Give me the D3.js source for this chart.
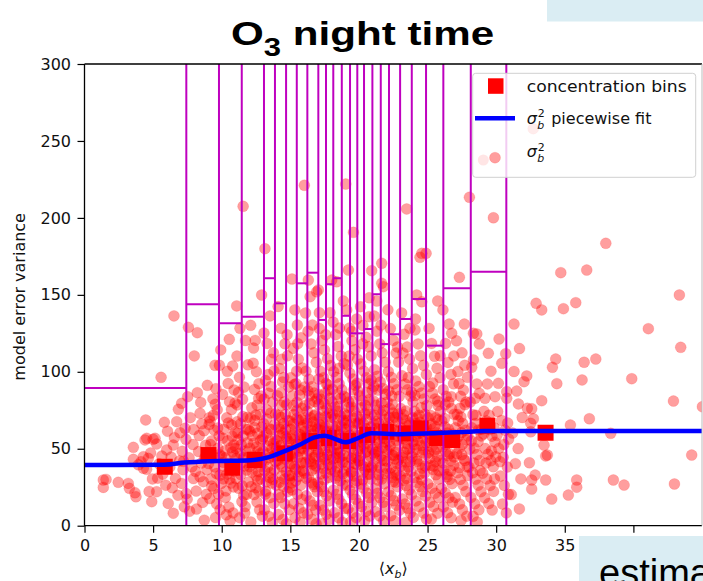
<!DOCTYPE html>
<html>
<head>
<meta charset="utf-8">
<script src="https://cdn.jsdelivr.net/npm/d3@7"></script>
<style>
  body { margin: 0; background: #fff; }
  svg { display: block; }
</style>
</head>
<body>
<svg id="chart" width="703" height="581"></svg>
<script>
// ---- data ----
const xTicks = [0, 5, 10, 15, 20, 25, 30, 35, 40];
const xTickLabels = ["0", "5", "10", "15", "20", "25", "30", "35", ""];
const yTicks = [0, 50, 100, 150, 200, 250, 300];

// bin edges of the concentration classes and the step level drawn for each class
const binEdges = [0, 7.42, 9.80, 11.46, 13.08, 13.88, 14.69, 15.47, 16.24, 17.04, 17.60, 18.13,
  18.75, 19.35, 19.88, 20.37, 20.98, 21.59, 22.19, 23.00, 23.85, 24.89, 26.15, 28.15, 30.74];
const binTops = [89.5, 143.9, 131.5, 135.8, 160.8, 144.5, 320, 157.5, 164.4, 133.7, 156.9, 160.8,
  136.4, 125.0, 125.0, 127.8, 150.4, 118.0, 124.4, 134.3, 147.3, 117.0, 154.3, 165.0];

// concentration bins (mean concentration, error variance)
const concX = [5.85, 9.03, 10.77, 12.4, 14.6, 16.4, 17.8, 19.2, 20.6, 22.0, 23.4, 24.5, 25.7, 26.8, 29.36, 33.6];
const concY = [38.3, 45.9, 37.7, 42.7, 47.0, 55.0, 57.0, 55.0, 59.0, 61.0, 60.0, 63.3, 57.0, 55.7, 65.0, 60.4];

// piecewise fit of sigma_b^2
const fitX = [0, 5.8, 7.3, 9.6, 12.1, 13.3, 14.5, 15.8, 16.7, 17.5, 18.2, 19.0, 19.9, 20.9, 23.0, 25.5, 27.9, 29.1, 45];
const fitY = [39.4, 39.6, 41.0, 42.0, 42.6, 44.2, 48.1, 53.1, 57.2, 58.5, 56.6, 54.2, 56.8, 60.0, 59.5, 60.0, 61.0, 61.5, 61.5];

// individual sigma_b^2 estimates: [mean concentration, error variance]
const sigmaPts = [
  [1.37,29.7],[1.57,30.1],[1.37,24.9],[2.46,28.2],[3.19,27.5],[3.27,24.3],[3.68,21.4],[3.75,18.8],[3.56,50.9],[3.56,43.1],[4.29,44.8],[4.65,43.8],[4.29,37.3],[4.53,36.6],[4.41,55.7],[4.46,68.7],[4.53,56.8],[4.9,15.6],[4.12,41.5],[4.82,47.2],[3.93,39.6],[4.95,30.4],[4.71,22.3],
  [5.0,56.1],[5.26,53.1],[6.47,52.4],[5.99,49.2],[5.26,22.1],[6.1,14.5],[6.47,8.1],[5.58,96.4],[5.82,67.2],[6.72,67.6],[6.84,75.6],[6.52,136.3],[6.96,60.4],[5.14,56.8],[5.43,40.2],[5.71,33.5],[6.22,38.1],[6.63,30.7],[6.31,44.6],[5.92,26.3],[6.81,19.8],[6.55,57.2],[5.64,45.3],[6.93,42.1],[5.33,30.9],[6.05,61.4],[6.4,24.6],
  [7.08,79.5],[7.52,83.8],[7.33,63.3],[7.57,128.9],[7.08,27.5],[7.48,17.2],[7.41,20.9],[7.27,12.3],[7.18,36.4],[7.62,44.1],[7.83,38.2],[7.91,52.7],[7.12,48.3],[7.71,70.2],[7.94,30.6],[8.0,110.3],[7.39,56.1],[7.96,62.5],[7.66,9.4],[7.22,41.8],
  [8.22,125.4],[8.22,86.4],[8.42,73.0],[8.71,61.7],[8.42,31.8],[8.66,28.6],[8.95,91.2],[8.31,48.2],[8.52,40.7],[8.83,52.3],[8.14,22.5],[8.61,15.1],[8.92,36.4],[8.36,58.6],[8.77,44.3],[8.55,66.2],[8.16,10.8],[8.88,20.4],[8.47,80.1],[8.73,3.6],[8.09,35.3],
  [9.1,70.2],[9.15,68.0],[9.08,65.7],[9.51,104.2],[9.83,104.2],[9.58,89.0],[9.93,114.2],[9.21,30.3],[9.42,24.1],[9.63,14.2],[9.88,10.4],[9.31,45.6],[9.72,50.3],[9.49,38.2],[9.81,58.4],[9.26,55.1],[9.67,75.3],[9.04,40.4],[9.86,32.7],[9.45,62.1],[9.76,20.5],[9.36,82.4],[9.97,45.2],[9.55,5.3],[9.13,17.6],
  [10.55,121.1],[10.8,103.8],[10.97,79.7],[10.73,65.4],[10.12,30.4],[10.31,22.6],[10.52,12.1],[10.83,8.3],[10.21,48.5],[10.44,55.2],[10.63,40.3],[10.91,35.4],[10.16,62.7],[10.37,70.1],[10.66,50.6],[10.86,25.2],[10.06,85.3],[10.47,92.4],[10.77,58.1],[10.26,18.4],[10.94,45.6],[10.61,3.2],[10.41,100.3],[10.9,88.2],[10.19,38.7],[10.71,75.5],[10.34,7.1],[10.58,30.2],
  [11.09,142.8],[11.33,128.3],[11.56,207.5],[11.11,110.2],[11.29,96.4],[11.52,82.1],[11.73,120.3],[11.91,104.5],[11.18,60.2],[11.42,52.6],[11.61,44.3],[11.83,36.1],[11.04,30.6],[11.24,24.3],[11.47,15.7],[11.68,8.2],[11.86,70.4],[11.14,78.5],[11.37,66.2],[11.57,58.3],[11.77,48.6],[11.96,28.4],[11.63,90.1],[11.01,50.2],[11.41,40.5],[11.81,20.3],[11.31,5.2],[11.93,62.6],[11.22,86.7],[11.71,12.4],
  [12.91,149.9],[12.11,130.2],[12.32,115.4],[12.53,100.1],[12.71,92.3],[12.88,84.2],[12.19,76.6],[12.42,68.4],[12.61,60.1],[12.83,55.3],[12.04,50.4],[12.27,45.2],[12.46,40.6],[12.67,35.1],[12.86,30.3],[12.14,25.5],[12.36,20.2],[12.57,15.4],[12.76,10.3],[12.96,6.2],[12.23,58.4],[12.63,48.3],[12.92,64.1],[12.39,88.5],[12.81,72.2],[12.02,38.3],[12.72,22.4],[12.29,105.6],[12.51,32.2],[12.94,42.1],[12.12,2.4],[12.58,78.3],[12.44,120.4],
  [13.15,180.0],[13.52,136.3],[13.08,125.2],[13.31,118.4],[13.62,108.1],[13.81,100.5],[13.19,94.3],[13.42,86.1],[13.71,80.4],[13.92,72.6],[13.06,66.3],[13.26,60.2],[13.47,55.4],[13.66,50.1],[13.87,46.3],[13.16,42.5],[13.36,38.2],[13.56,34.4],[13.74,30.1],[13.96,26.3],[13.21,22.4],[13.51,18.2],[13.79,14.5],[13.11,10.3],[13.41,6.2],[13.69,2.1],[13.29,75.3],[13.61,62.4],[13.89,56.2],[13.01,48.3],[13.46,44.1],[13.84,36.3],[13.59,90.5],[13.24,28.4],[13.77,112.3],[13.38,98.2],
  [14.11,142.4],[14.32,128.3],[14.61,118.2],[14.79,110.4],[14.22,102.1],[14.52,96.3],[14.89,90.2],[14.06,84.5],[14.36,78.2],[14.64,72.4],[14.94,68.1],[14.16,64.2],[14.44,60.3],[14.74,56.5],[14.26,52.1],[14.56,48.3],[14.86,45.2],[14.09,42.4],[14.41,38.2],[14.69,35.1],[14.91,32.4],[14.21,28.2],[14.49,25.4],[14.81,22.1],[14.29,18.3],[14.59,14.2],[14.92,10.4],[14.13,7.2],[14.46,4.1],[14.71,1.3],[14.34,70.4],[14.66,62.3],[14.02,55.2],[14.54,80.3],[14.84,50.4],[14.24,40.1],[14.96,30.2],[14.17,20.3],[14.76,124.1],[14.38,108.2],
  [15.12,160.3],[15.33,140.2],[15.51,130.4],[15.78,122.1],[15.21,115.3],[15.58,108.2],[15.88,102.4],[15.04,96.1],[15.41,92.3],[15.74,88.2],[15.16,84.4],[15.49,80.1],[15.84,76.3],[15.26,72.2],[15.61,68.4],[15.94,65.1],[15.36,62.3],[15.69,59.2],[15.09,56.4],[15.44,53.1],[15.81,50.3],[15.19,47.2],[15.56,44.4],[15.91,41.1],[15.29,38.3],[15.66,35.2],[15.01,32.4],[15.39,29.1],[15.76,26.3],[15.14,23.2],[15.52,20.4],[15.86,17.1],[15.24,14.3],[15.63,11.2],[15.96,8.4],[15.34,5.1],[15.71,2.3],[15.46,100.4],[15.89,58.2],[15.23,66.1],[15.64,48.3],[15.06,40.2],[15.54,118.3],
  [16.02,221.2],[16.31,159.6],[16.44,148.8],[16.92,152.0],[16.11,138.2],[16.29,126.4],[16.52,118.1],[16.71,112.3],[16.89,106.2],[16.14,100.4],[16.36,95.1],[16.56,90.3],[16.74,86.2],[16.94,82.4],[16.06,78.1],[16.24,74.3],[16.46,70.2],[16.66,67.4],[16.84,64.1],[16.09,61.3],[16.32,58.2],[16.51,55.4],[16.69,52.1],[16.91,49.3],[16.19,46.2],[16.41,43.4],[16.62,40.1],[16.79,37.3],[16.01,34.2],[16.34,31.4],[16.54,28.1],[16.76,25.3],[16.96,22.2],[16.16,19.4],[16.43,16.1],[16.64,13.3],[16.86,10.2],[16.26,7.4],[16.58,4.1],[16.88,1.2],[16.39,84.3],[16.81,72.1],[16.21,54.2],[16.72,44.3],[16.49,62.1],[16.04,90.2],[16.61,130.4],
  [17.04,153.2],[17.11,138.4],[17.89,138.4],[18.02,159.6],[18.38,158.5],[17.12,128.1],[17.31,120.3],[17.49,114.2],[17.71,108.4],[17.92,104.1],[17.19,100.3],[17.42,96.2],[17.61,92.4],[17.79,88.1],[17.06,85.3],[17.27,82.2],[17.46,79.4],[17.66,76.1],[17.86,73.3],[17.14,70.2],[17.36,67.4],[17.56,64.1],[17.74,61.3],[17.94,58.2],[17.09,55.4],[17.32,52.1],[17.51,49.3],[17.69,46.2],[17.91,43.4],[17.21,40.1],[17.39,37.3],[17.59,34.2],[17.81,31.4],[17.02,28.1],[17.24,25.3],[17.44,22.2],[17.64,19.4],[17.84,16.1],[17.16,13.3],[17.41,10.2],[17.62,7.4],[17.82,4.1],[17.29,1.3],[17.54,86.2],[17.96,70.4],[17.22,62.1],[17.76,54.3],[17.38,44.2],[17.58,124.1],[17.08,95.3],
  [18.86,146.0],[18.12,132.3],[18.31,124.1],[18.49,116.4],[18.71,110.2],[18.91,105.3],[18.16,100.1],[18.34,96.4],[18.56,92.2],[18.76,88.3],[18.94,84.1],[18.04,80.4],[18.24,77.2],[18.46,74.3],[18.66,71.1],[18.84,68.4],[18.09,65.2],[18.29,62.3],[18.51,59.1],[18.69,56.4],[18.89,53.2],[18.19,50.3],[18.41,47.1],[18.61,44.4],[18.81,41.2],[18.01,38.3],[18.26,35.1],[18.44,32.4],[18.64,29.2],[18.83,26.3],[18.14,23.1],[18.36,20.4],[18.54,17.2],[18.74,14.3],[18.96,11.1],[18.21,8.4],[18.52,5.2],[18.79,2.3],[18.39,85.2],[18.59,128.4],[18.72,64.3],[18.32,44.1],[18.92,35.4],[18.11,72.2],[18.56,102.3],
  [19.04,222.0],[19.6,190.6],[19.23,166.1],[19.84,134.3],[19.11,140.2],[19.31,128.4],[19.49,120.1],[19.71,114.3],[19.89,108.2],[19.16,104.4],[19.34,99.1],[19.56,95.3],[19.74,91.2],[19.94,87.4],[19.06,83.1],[19.26,80.3],[19.44,77.2],[19.66,74.4],[19.86,71.1],[19.09,68.3],[19.29,65.2],[19.51,62.4],[19.69,59.1],[19.91,56.3],[19.19,53.2],[19.41,50.4],[19.61,47.1],[19.79,44.3],[19.02,41.2],[19.24,38.4],[19.46,35.1],[19.64,32.3],[19.84,29.2],[19.14,26.4],[19.36,23.1],[19.54,20.3],[19.76,17.2],[19.96,14.4],[19.21,11.1],[19.52,8.3],[19.81,5.2],[19.39,2.4],[19.62,88.3],[19.28,110.2],[19.92,66.4],[19.07,58.1],[19.72,40.3],[19.47,126.2],
  [20.93,165.7],[20.74,148.1],[20.74,135.8],[20.11,142.3],[20.29,130.1],[20.52,122.4],[20.71,116.2],[20.89,110.3],[20.14,105.1],[20.36,100.4],[20.54,96.2],[20.76,92.3],[20.96,88.1],[20.04,84.4],[20.26,81.2],[20.46,78.3],[20.64,75.1],[20.86,72.4],[20.12,69.2],[20.31,66.3],[20.49,63.1],[20.72,60.4],[20.91,57.2],[20.21,54.3],[20.39,51.1],[20.61,48.4],[20.81,45.2],[20.02,42.3],[20.24,39.1],[20.44,36.4],[20.66,33.2],[20.84,30.3],[20.16,27.1],[20.34,24.4],[20.56,21.2],[20.74,18.3],[20.94,15.1],[20.19,12.4],[20.51,9.2],[20.79,6.3],[20.41,3.1],[20.59,86.4],[20.28,118.2],[20.88,64.1],[20.13,50.3],[20.69,38.2],
  [21.66,170.5],[21.66,157.5],[21.3,146.0],[21.78,155.3],[21.12,136.2],[21.31,126.4],[21.51,118.1],[21.69,112.3],[21.92,106.2],[21.14,101.4],[21.34,97.1],[21.56,93.3],[21.74,89.2],[21.94,85.4],[21.06,81.1],[21.24,78.3],[21.46,75.2],[21.64,72.4],[21.86,69.1],[21.09,66.3],[21.32,63.2],[21.49,60.4],[21.71,57.1],[21.89,54.3],[21.19,51.2],[21.41,48.4],[21.59,45.1],[21.81,42.3],[21.02,39.2],[21.26,36.4],[21.44,33.1],[21.66,30.3],[21.84,27.2],[21.16,24.4],[21.36,21.1],[21.54,18.3],[21.76,15.2],[21.96,12.4],[21.21,9.1],[21.52,6.3],[21.79,3.2],[21.39,88.1],[21.61,130.3],[21.91,62.2],[21.11,46.4],
  [22.11,140.3],[22.29,128.1],[22.51,120.4],[22.71,112.2],[22.89,106.3],[22.14,100.1],[22.36,96.4],[22.54,92.2],[22.76,88.3],[22.94,84.1],[22.06,80.4],[22.24,76.2],[22.46,73.3],[22.64,70.1],[22.86,67.4],[22.09,64.2],[22.31,61.3],[22.49,58.1],[22.72,55.4],[22.91,52.2],[22.19,49.3],[22.41,46.1],[22.61,43.4],[22.79,40.2],[22.02,37.3],[22.26,34.1],[22.44,31.4],[22.66,28.2],[22.84,25.3],[22.16,22.1],[22.34,19.4],[22.56,16.2],[22.74,13.3],[22.96,10.1],[22.32,6.4],[22.59,3.2],[22.39,84.3],[22.81,116.1],[22.21,70.4],[22.69,35.2],
  [23.48,205.8],[23.72,128.3],[23.11,138.2],[23.29,124.4],[23.51,116.1],[23.69,108.3],[23.91,102.2],[23.14,97.4],[23.36,92.1],[23.54,88.3],[23.76,84.2],[23.94,80.4],[23.04,76.1],[23.24,72.3],[23.46,68.2],[23.64,65.4],[23.86,62.1],[23.09,59.3],[23.31,56.2],[23.49,53.4],[23.71,50.1],[23.89,47.3],[23.19,44.2],[23.41,41.4],[23.61,38.1],[23.79,35.3],[23.02,32.2],[23.26,29.4],[23.44,26.1],[23.66,23.3],[23.84,20.2],[23.16,17.4],[23.34,14.1],[23.56,11.3],[23.74,8.2],[23.96,5.4],[23.39,2.1],[23.59,96.3],[23.21,112.2],[23.92,70.1],
  [24.45,174.4],[24.89,177.0],[24.58,177.0],[24.21,149.9],[24.58,145.5],[24.09,127.2],[24.12,134.3],[24.31,118.1],[24.49,110.4],[24.71,104.2],[24.91,98.3],[24.14,94.1],[24.36,90.4],[24.56,86.2],[24.74,82.3],[24.94,78.1],[24.04,74.4],[24.26,70.2],[24.44,67.3],[24.66,64.1],[24.84,61.4],[24.11,58.2],[24.29,55.3],[24.51,52.1],[24.69,49.4],[24.89,46.2],[24.19,43.3],[24.41,40.1],[24.61,37.4],[24.79,34.2],[24.02,31.3],[24.24,28.1],[24.46,25.4],[24.64,22.2],[24.86,19.3],[24.16,16.1],[24.39,12.4],[24.71,8.2],[24.92,4.3],[24.53,60.1],[24.81,72.4],
  [25.74,146.0],[25.11,128.2],[25.29,118.4],[25.51,110.1],[25.69,102.3],[25.91,96.2],[25.14,90.4],[25.36,86.1],[25.54,82.3],[25.76,78.2],[25.94,74.4],[25.04,70.1],[25.26,66.3],[25.46,63.2],[25.64,60.4],[25.86,57.1],[25.09,54.3],[25.31,51.2],[25.49,48.4],[25.71,45.1],[25.89,42.3],[25.19,39.2],[25.41,36.4],[25.61,33.1],[25.79,30.3],[25.02,27.2],[25.32,24.4],[25.56,21.1],[25.81,18.3],[25.16,15.2],[25.44,12.4],[25.74,8.1],[25.28,4.3],[25.59,70.2],[25.92,110.4],
  [26.57,131.0],[26.76,125.0],[26.12,140.2],[26.31,118.4],[26.49,106.1],[26.71,98.3],[26.89,92.2],[26.14,88.4],[26.36,84.1],[26.54,80.3],[26.74,76.2],[26.94,72.4],[26.04,68.1],[26.26,64.3],[26.44,60.2],[26.66,57.4],[26.84,54.1],[26.09,51.3],[26.31,48.2],[26.51,45.4],[26.69,42.1],[26.91,39.3],[26.19,36.2],[26.41,33.4],[26.61,30.1],[26.79,27.3],[26.02,24.2],[26.29,21.4],[26.56,18.1],[26.81,15.3],[26.16,12.2],[26.46,8.4],[26.72,5.1],[26.92,110.3],
  [27.32,161.4],[27.68,131.0],[27.21,100.2],[27.29,92.4],[27.41,84.1],[27.36,76.3],[27.24,68.2],[27.46,60.4],[27.11,120.1],[27.51,112.3],[27.71,104.2],[27.91,96.4],[27.61,88.1],[27.81,80.3],[27.16,72.2],[27.56,66.4],[27.76,62.1],[27.94,58.3],[27.06,54.2],[27.31,50.4],[27.49,46.1],[27.72,42.3],[27.89,38.2],[27.19,34.4],[27.39,30.1],[27.59,26.3],[27.79,22.2],[27.02,18.4],[27.33,14.1],[27.54,10.3],[27.86,6.2],[27.44,3.4],
  [28.05,213.4],[28.34,125.0],[28.59,124.6],[28.77,118.1],[28.34,107.7],[28.22,102.9],[28.59,92.1],[28.77,86.0],[28.11,80.3],[28.31,72.1],[28.49,66.4],[28.71,62.2],[28.91,58.3],[28.19,55.1],[28.41,50.4],[28.61,46.2],[28.79,42.3],[28.02,38.1],[28.29,34.4],[28.51,30.2],[28.69,26.3],[28.89,22.1],[28.16,18.4],[28.44,14.2],[28.74,10.3],[28.32,6.1],[28.62,2.4],
  [29.8,200.1],[29.43,112.0],[29.19,82.8],[29.92,83.8],[29.11,74.3],[29.29,68.1],[29.51,62.4],[29.69,58.2],[29.91,54.3],[29.21,50.1],[29.41,46.4],[29.61,42.2],[29.79,38.3],[29.02,34.1],[29.31,30.4],[29.56,26.2],[29.81,22.3],[29.16,18.1],[29.46,14.4],[29.71,10.2],[29.88,30.3],[29.36,92.1],[29.62,100.4],
  [30.21,121.3],[30.7,111.8],[30.41,105.5],[30.16,92.5],[30.77,87.1],[30.77,82.8],[30.11,74.2],[30.39,68.4],[30.64,62.1],[30.91,56.3],[30.19,50.2],[30.51,44.4],[30.81,38.1],[30.31,32.3],[30.59,26.2],[30.89,20.4],[30.46,14.1],[30.74,8.3],
  [31.3,131.0],[31.5,87.5],[31.62,79.1],[31.69,10.9],[32.23,97.3],[32.03,93.6],[32.59,76.0],[33.32,81.2],[32.71,69.5],[35.41,65.4],[36.79,69.5],[38.35,60.0],[32.52,61.0],[32.52,66.5],[32.27,76.3],[33.73,45.9],[33.49,52.3],[33.61,29.7],[32.59,29.7],[32.59,23.8],[32.84,32.9],[32.42,40.9],[33.61,45.3],[34.05,17.3],[35.87,29.7],[35.87,25.0],[35.26,19.9],[38.54,29.7],[39.32,26.4],[42.99,27.1],[44.25,45.9],[34.34,108.3],[34.1,102.9],[34.42,92.3],[36.41,106.2],[37.26,108.3],[36.26,94.7],[39.88,95.5],[42.92,81.0],[45.03,77.3],[41.09,128.0],[43.45,115.9],[43.35,149.9],[37.99,183.5],[34.71,164.4],[36.6,166.1],[32.91,144.5],[33.32,140.2],[34.9,141.0],[35.8,144.9],[31.2,60.2],[31.4,40.3],[31.8,30.4],[31.1,20.2],[31.6,50.1],[31.9,70.3],[31.3,100.2],[31.7,115.1],[32.7,258.0]
];

// additional estimates in the crowded mid-concentration range
const sigmaPtsCore = [
  [9.18,52.7],[9.39,71.8],[9.62,33.9],[9.84,46.3],[9.27,25.8],[9.71,63.5],[9.53,78.9],[9.95,27.4],
  [10.08,56.9],[10.27,44.1],[10.49,66.8],[10.68,27.7],[10.88,52.4],[10.14,41.2],[10.39,33.6],[10.57,80.6],[10.79,47.9],[10.97,60.8],
  [11.07,43.7],[11.21,55.8],[11.39,33.2],[11.54,70.9],[11.66,38.8],[11.88,53.9],[11.12,67.5],[11.35,47.1],[11.49,25.9],[11.79,62.7],[11.94,44.6],[11.6,19.7],
  [12.06,61.3],[12.18,43.7],[12.33,53.6],[12.49,71.9],[12.62,29.4],[12.78,46.8],[12.97,56.4],[12.21,34.8],[12.4,63.7],[12.55,51.2],[12.69,82.7],[12.84,38.6],[12.09,69.8],[12.47,24.6],
  [13.03,57.8],[13.14,35.6],[13.27,69.4],[13.39,46.7],[13.53,62.8],[13.64,27.7],[13.76,53.4],[13.93,41.6],[13.09,82.3],[13.33,51.8],[13.49,31.4],[13.58,73.2],[13.72,44.9],[13.86,65.7],[13.18,20.6],[13.98,50.3],
  [14.04,47.6],[14.14,71.8],[14.27,58.7],[14.39,32.6],[14.51,66.4],[14.62,43.2],[14.73,78.6],[14.87,54.7],[14.97,38.9],[14.19,51.6],[14.31,86.4],[14.47,45.8],[14.58,30.3],[14.68,57.9],[14.82,68.3],[14.94,24.7],[14.23,62.9],[14.43,93.4],
  [15.03,62.6],[15.11,44.8],[15.22,77.9],[15.31,55.7],[15.4,36.6],[15.48,69.7],[15.57,52.6],[15.67,84.9],[15.77,40.7],[15.87,63.8],[15.97,49.9],[15.08,27.8],[15.18,58.9],[15.28,91.7],[15.38,46.6],[15.47,74.7],[15.59,31.9],[15.72,55.8],[15.83,68.9],[15.93,35.7],
  [16.03,57.6],[16.12,40.9],[16.22,66.7],[16.33,48.8],[16.42,79.6],[16.53,35.8],[16.63,59.7],[16.73,71.5],[16.83,45.6],[16.93,56.7],[16.07,69.9],[16.17,30.8],[16.28,87.7],[16.38,52.8],[16.48,41.7],[16.57,64.6],[16.68,26.9],[16.78,80.7],[16.87,38.8],[16.97,62.8],
  [17.03,47.7],[17.13,65.8],[17.23,33.7],[17.33,57.8],[17.43,74.7],[17.53,42.8],[17.63,60.7],[17.73,91.6],[17.83,50.7],[17.93,36.6],[17.07,78.8],[17.18,54.7],[17.28,44.9],[17.37,63.6],[17.47,29.7],[17.57,70.8],[17.67,56.6],[17.77,39.7],[17.87,82.8],[17.97,48.7],
  [18.03,59.7],[18.13,43.6],[18.23,69.8],[18.33,52.7],[18.43,37.8],[18.53,77.7],[18.63,47.9],[18.73,61.6],[18.83,33.7],[18.93,72.8],[18.07,88.6],[18.17,55.8],[18.27,30.9],[18.37,64.7],[18.47,49.6],[18.57,40.8],[18.67,82.7],[18.77,57.6],[18.87,45.8],[18.97,66.7],
  [19.03,51.7],[19.13,71.6],[19.23,44.8],[19.33,58.7],[19.43,34.6],[19.53,80.8],[19.63,53.7],[19.73,66.6],[19.83,39.8],[19.93,48.7],[19.08,62.9],[19.18,31.7],[19.27,76.8],[19.38,54.6],[19.48,43.7],[19.58,69.9],[19.68,27.8],[19.78,57.7],[19.88,92.6],[19.98,41.8],
  [20.03,66.7],[20.13,45.8],[20.23,59.6],[20.33,34.7],[20.43,72.8],[20.53,53.6],[20.63,41.7],[20.73,81.8],[20.83,57.6],[20.93,37.7],[20.07,52.9],[20.18,76.6],[20.27,29.8],[20.38,61.7],[20.48,47.6],[20.58,68.8],[20.68,55.7],[20.78,33.6],[20.88,94.7],[20.98,49.8],
  [21.03,58.6],[21.13,71.7],[21.23,43.8],[21.33,55.7],[21.43,66.6],[21.53,37.8],[21.63,79.7],[21.73,50.6],[21.83,62.7],[21.93,33.8],[21.08,90.6],[21.18,47.7],[21.28,67.9],[21.38,29.6],[21.48,53.8],[21.58,61.6],[21.68,42.7],[21.78,74.8],[21.88,56.6],
  [22.03,48.7],[22.13,66.8],[22.23,54.6],[22.33,37.7],[22.43,78.8],[22.53,45.6],[22.63,61.7],[22.73,32.8],[22.83,72.6],[22.93,57.7],[22.07,41.8],[22.18,87.6],[22.28,51.7],[22.38,63.8],[22.48,28.6],[22.58,70.7],[22.68,47.8],[22.88,42.6],
  [23.03,63.7],[23.13,45.6],[23.23,56.8],[23.33,35.7],[23.43,74.6],[23.53,49.8],[23.63,60.7],[23.73,41.6],[23.83,86.8],[23.93,54.7],[23.07,38.8],[23.18,69.6],[23.28,47.7],[23.38,58.8],[23.48,30.6],[23.68,66.7],[23.88,44.8],
  [24.03,52.7],[24.13,66.6],[24.23,41.8],[24.33,59.7],[24.43,33.6],[24.53,76.8],[24.63,47.7],[24.73,56.6],[24.83,38.8],[24.93,63.7],[24.08,84.6],[24.18,49.7],[24.38,71.8],[24.58,29.6],[24.68,61.8],[24.88,53.7],
  [25.03,59.7],[25.13,43.8],[25.23,71.6],[25.33,55.7],[25.43,38.8],[25.53,64.6],[25.63,49.7],[25.73,80.8],[25.83,35.6],[25.93,58.7],[25.08,47.6],[25.38,92.7],[25.58,41.6],[25.78,68.8],
  [26.03,56.7],[26.13,40.8],[26.23,69.6],[26.33,52.7],[26.43,31.8],[26.53,62.6],[26.63,46.7],[26.73,83.8],[26.83,59.6],[26.93,44.7],[26.28,78.6],[26.68,35.7],
  [27.03,63.6],[27.13,46.7],[27.23,57.8],[27.33,37.6],[27.43,70.7],[27.53,52.8],[27.63,43.6],[27.73,78.7],[27.83,55.8],[27.93,32.6],
  [28.08,49.7],[28.23,63.6],[28.38,40.8],[28.53,71.7],[28.68,54.6],[28.83,35.8],[28.96,62.7],[28.46,82.8],
  [29.08,59.6],[29.26,40.7],[29.48,71.8],[29.66,48.6],[29.84,63.7],[29.97,44.8],
  [30.06,58.7],[30.28,41.6],[30.56,52.8],[30.84,66.7]
];

// ---- layout ----
const svg = d3.select("#chart");
const plot = { left: 84.5, right: 702, top: 64, bottom: 525.7 };
const x = d3.scaleLinear().domain([0, 45]).range([plot.left, plot.right]);
const y = d3.scaleLinear().domain([0, 300]).range([plot.bottom, plot.top]);
const tickFont = "'DejaVu Sans', sans-serif";

svg.append("defs").append("clipPath").attr("id", "plotClip")
  .append("rect")
  .attr("x", plot.left).attr("y", plot.top)
  .attr("width", plot.right - plot.left).attr("height", plot.bottom - plot.top);

const area = svg.append("g").attr("clip-path", "url(#plotClip)");

// scatter of individual estimates
area.append("g").selectAll("circle").data(sigmaPts.concat(sigmaPtsCore)).join("circle")
  .attr("cx", d => x(d[0])).attr("cy", d => y(d[1])).attr("r", 5.5)
  .attr("fill", "#ff0000").attr("fill-opacity", 0.38)
  .attr("stroke", "#ff0000").attr("stroke-opacity", 0.12).attr("stroke-width", 1);

// concentration bin means
area.append("g").selectAll("rect").data(concX.map((v, i) => [v, concY[i]])).join("rect")
  .attr("x", d => x(d[0]) - 8).attr("y", d => y(d[1]) - 8)
  .attr("width", 16).attr("height", 16).attr("fill", "#ff0000");

// bin boundaries and step levels
const binG = area.append("g").attr("stroke", "#bf00bf").attr("stroke-width", 2).attr("fill", "none");
binG.selectAll("line.edge").data(binEdges.slice(1)).join("line").attr("class", "edge")
  .attr("x1", d => x(d)).attr("x2", d => x(d))
  .attr("y1", y(0)).attr("y2", y(300));
binG.selectAll("line.top").data(binTops).join("line").attr("class", "top")
  .attr("x1", (d, i) => x(binEdges[i])).attr("x2", (d, i) => x(binEdges[i + 1]))
  .attr("y1", d => y(d)).attr("y2", d => y(d));

// piecewise fit
const fitLine = d3.line().x(d => x(d[0])).y(d => y(d[1])).curve(d3.curveMonotoneX);
area.append("path").datum(fitX.map((v, i) => [v, fitY[i]]))
  .attr("d", fitLine).attr("fill", "none")
  .attr("stroke", "#0000ff").attr("stroke-width", 4.5).attr("stroke-linejoin", "round");

// ---- axes ----
const xAxis = svg.append("g").attr("transform", `translate(0,${plot.bottom})`)
  .call(d3.axisBottom(x).tickValues(xTicks).tickFormat((d, i) => xTickLabels[i]).tickSize(7).tickPadding(7));
const yAxis = svg.append("g").attr("transform", `translate(${plot.left},0)`)
  .call(d3.axisLeft(y).tickValues(yTicks).tickFormat(d3.format("d")).tickSize(7).tickPadding(6.5));
[xAxis, yAxis].forEach(a => {
  a.select(".domain").remove();
  a.selectAll(".tick line").attr("stroke", "#000").attr("stroke-width", 1.2);
  a.selectAll(".tick text").attr("font-family", tickFont).attr("font-size", 16).attr("fill", "#111");
});

// frame
svg.append("path")
  .attr("d", `M${plot.left},${plot.top}H${plot.right}M${plot.left},${plot.top}V${plot.bottom}H${plot.right}`)
  .attr("fill", "none").attr("stroke", "#000").attr("stroke-width", 1.3);
svg.append("line").attr("x1", plot.right).attr("x2", plot.right).attr("y1", plot.top).attr("y2", plot.bottom)
  .attr("stroke", "#bbb").attr("stroke-width", 1);

// axis labels
svg.append("text")
  .attr("transform", `translate(25,${(plot.top + plot.bottom) / 2 + 2}) rotate(-90)`)
  .attr("text-anchor", "middle").attr("font-family", tickFont).attr("font-size", 16).attr("fill", "#111")
  .text("model error variance");

const xl = svg.append("text").attr("x", (plot.left + plot.right) / 2).attr("y", 574)
  .attr("text-anchor", "middle").attr("font-family", tickFont).attr("font-size", 16).attr("fill", "#111");
xl.append("tspan").text("\u27E8");
xl.append("tspan").attr("font-style", "italic").text("x");
xl.append("tspan").attr("font-style", "italic").attr("font-size", 11).attr("dy", 3.5).text("b");
xl.append("tspan").attr("dy", -3.5).text("\u27E9");

// ---- legend ----
const lg = svg.append("g");
lg.append("rect").attr("x", 472.7).attr("y", 73.3).attr("width", 223).attr("height", 104).attr("rx", 3)
  .attr("fill", "#fff").attr("fill-opacity", 0.8).attr("stroke", "#d0d0d0").attr("stroke-width", 1);
lg.append("rect").attr("x", 488).attr("y", 78.3).attr("width", 15.5).attr("height", 15.5).attr("fill", "#ff0000");
lg.append("line").attr("x1", 475).attr("x2", 515).attr("y1", 118.3).attr("y2", 118.3)
  .attr("stroke", "#0000ff").attr("stroke-width", 4.5);
lg.append("circle").attr("cx", 483.3).attr("cy", 160).attr("r", 5.5).attr("fill", "#ff0000").attr("fill-opacity", 0.1);
lg.append("circle").attr("cx", 495).attr("cy", 157.7).attr("r", 5.5).attr("fill", "#ff0000").attr("fill-opacity", 0.38)
  .attr("stroke", "#ff0000").attr("stroke-opacity", 0.12);

const legFont = (sel) => sel.attr("font-family", tickFont).attr("fill", "#111");
legFont(lg.append("text").attr("x", 526.7).attr("y", 92.3).attr("font-size", 16)
  .attr("textLength", 160).attr("lengthAdjust", "spacingAndGlyphs").text("concentration bins"));

function sigmaLabel(x0, base, rest) {
  legFont(lg.append("text").attr("x", x0).attr("y", base).attr("font-size", 16).attr("font-style", "italic").text("\u03C3"));
  legFont(lg.append("text").attr("x", x0 + 11).attr("y", base - 6.5).attr("font-size", 11).text("2"));
  legFont(lg.append("text").attr("x", x0 + 10.5).attr("y", base + 5).attr("font-size", 11).attr("font-style", "italic").text("b"));
  if (rest) legFont(lg.append("text").attr("x", x0 + 24.5).attr("y", base).attr("font-size", 16).text(rest));
}
sigmaLabel(526.7, 123.5, "piecewise fit");
sigmaLabel(526.7, 157.3, null);

// ---- title ----
const tg = svg.append("g").attr("transform", "translate(231,45) scale(1.24,1)");
const tt = tg.append("text").attr("x", 0).attr("y", 0)
  .attr("font-family", "'Liberation Sans', Arial, sans-serif").attr("font-weight", "bold")
  .attr("font-size", 34).attr("fill", "#000");
tt.append("tspan").text("O");
tt.append("tspan").attr("font-size", 25).attr("dy", 11).text("3");
tt.append("tspan").attr("dy", -11).text(" night time");

// ---- surrounding slide boxes ----
svg.append("rect").attr("x", 547).attr("y", 0).attr("width", 156).attr("height", 21.5).attr("fill", "#daedf3");
svg.append("rect").attr("x", 579).attr("y", 536).attr("width", 124).attr("height", 45).attr("fill", "#daedf3");
svg.append("text").attr("x", 599).attr("y", 586)
  .attr("font-family", "'Liberation Sans', Arial, sans-serif").attr("font-size", 38).attr("fill", "#000")
  .text("estimate");
</script>
</body>
</html>
